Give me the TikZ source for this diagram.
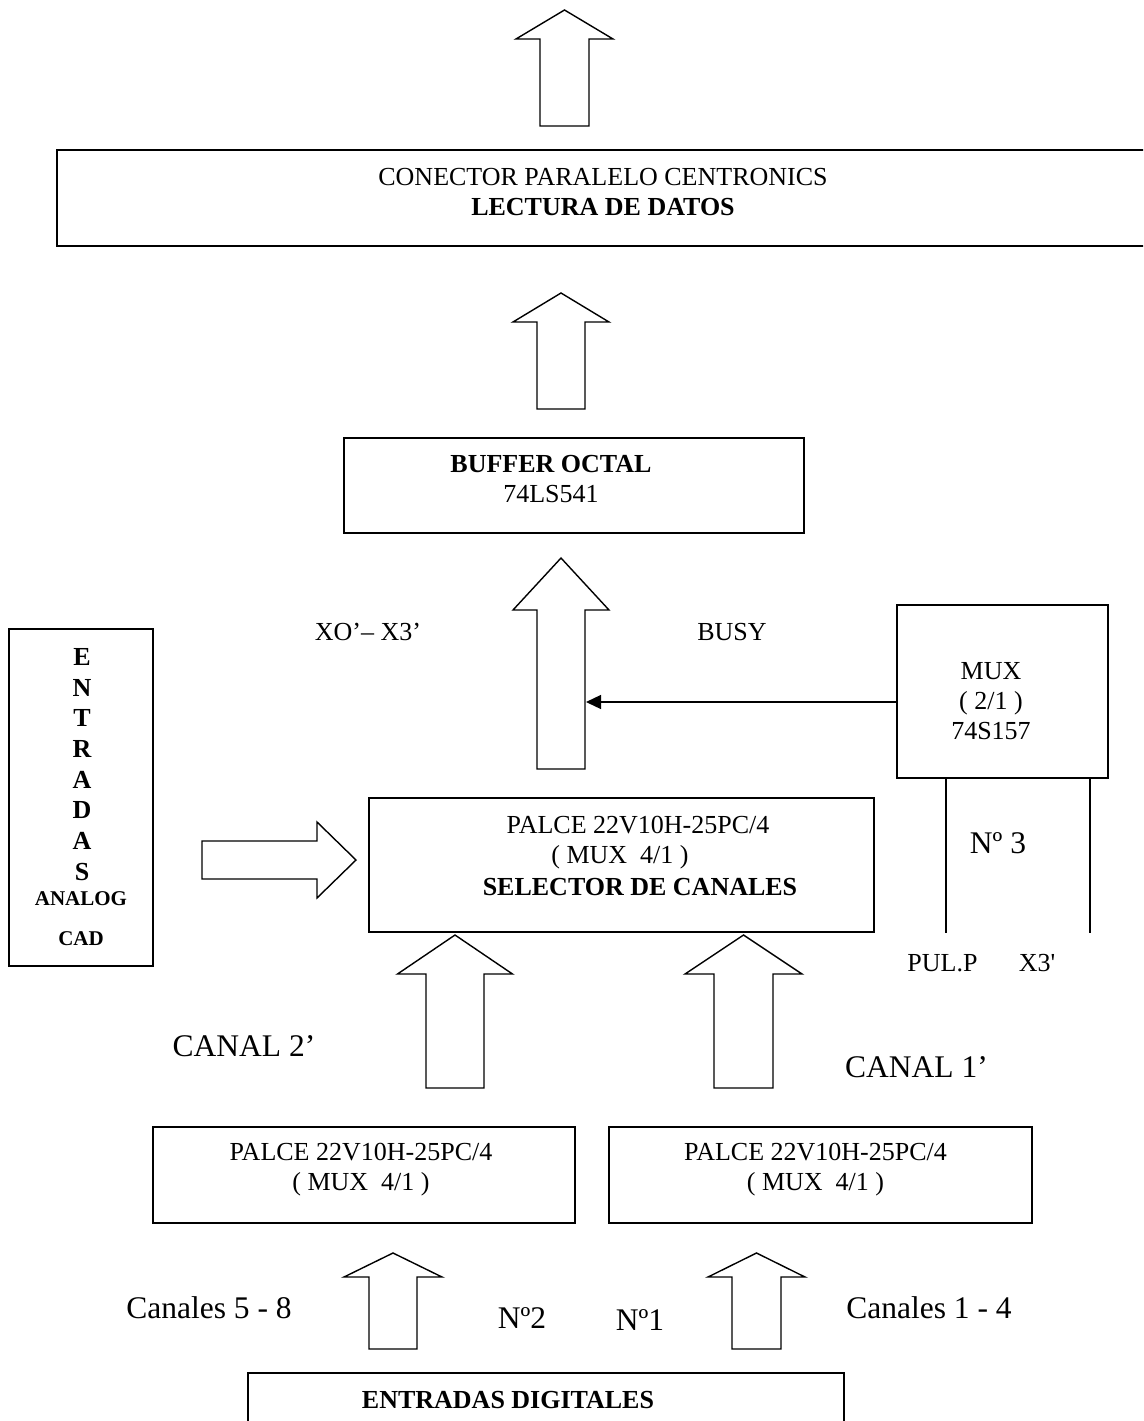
\documentclass[tikz,border=0pt]{standalone}
\usepackage{fontspec}
\setmainfont{Liberation Serif}
\usetikzlibrary{arrows.meta,positioning}
\definecolor{bdedge}{RGB}{0,0,0}
\tikzset{
  blk/.style={draw=bdedge, line width=1.5pt, inner sep=0pt},
  txt/.style={inner sep=0pt, align=center, font=\fontsize{26}{30}\selectfont},
  bigtxt/.style={txt, font=\fontsize{31.5}{36}\selectfont},
  boldtxt/.style={txt, font=\bfseries\fontsize{26}{30}\selectfont},
  smalltxt/.style={txt, font=\bfseries\fontsize{21}{25}\selectfont},
  bus/.style={draw=bdedge, line width=1.4pt, line join=miter},
  sig/.style={-{Triangle[length=15pt,width=14pt]}, draw=bdedge, line width=1.3pt}
}
% fat bus arrow pointing up: centre x, shaft half, head half, bottom, head base, tip
\newcommand{\busup}[6]{%
  \draw[bus] (#1-#2,#4) -- (#1-#2,#5) -- (#1-#3,#5) -- (#1,#6)
    -- (#1+#3,#5) -- (#1+#2,#5) -- (#1+#2,#4) -- cycle;}

\begin{document}
\begin{tikzpicture}[x=1pt, y=-1pt]
  \useasboundingbox (0,0) rectangle (1143,1421);
  \clip (0,0) rectangle (1143,1421);

  % boxes
  \node[blk, minimum width=1092pt, minimum height=96pt] (conn) at (603,198) {};
  \node[blk, minimum width=460pt, minimum height=95pt] (buf) at (574,485.5) {};
  \node[blk, minimum width=211pt, minimum height=173pt] (mux) at (1002.5,691.5) {};
  \node[blk, minimum width=144pt, minimum height=337pt] (analog) at (81,797.5) {};
  \node[blk, minimum width=505pt, minimum height=134pt] (sel) at (621.5,865) {};
  \node[blk, minimum width=422pt, minimum height=96pt] (pal2) at (364,1175) {};
  \node[blk, minimum width=423pt, minimum height=96pt] (pal1) at (820.5,1175) {};
  \node[blk, minimum width=596pt, minimum height=67pt] (dig) at (546,1406.5) {};

  % box texts
  \node[txt] (connT) at (603,192) {CONECTOR PARALELO CENTRONICS\\\textbf{LECTURA DE DATOS}};
  \node[txt] (bufT) at (551,479.5) {\textbf{BUFFER OCTAL}\\74LS541};
  \node[txt] (muxT) at (991,701) {MUX\\( 2/1 )\\74S157};
  \node[boldtxt, font=\bfseries\fontsize{26}{30.7}\selectfont] (analogT) at (82,764.5)
    {E\\N\\T\\R\\A\\D\\A\\S};
  \node[smalltxt] (analogA) at (81,899) {ANALOG};
  \node[smalltxt] (analogC) at (81,939) {CAD};
  \node[txt] (selA) at (638,825) {PALCE 22V10H-25PC/4};
  \node[txt] (selB) at (620,857) {( MUX\ \ 4/1 )};
  \node[boldtxt] (selC) at (640,887) {SELECTOR DE CANALES};
  \node[txt] (pal2T) at (361,1169.5) {PALCE 22V10H-25PC/4\\( MUX\ \ 4/1 )};
  \node[txt] (pal1T) at (815.5,1169.5) {PALCE 22V10H-25PC/4\\( MUX\ \ 4/1 )};
  \node[boldtxt] (digT) at (508,1400) {ENTRADAS DIGITALES};

  % labels
  \node[txt] (xlab) at (368,632) {XO’– X3’};
  \node[txt] (busy) at (732,632) {BUSY};
  \node[bigtxt] (n3) at (998,843) {Nº 3};
  \node[txt] (pulp) at (942.5,963) {PUL.P};
  \node[txt] (x3) at (1037,963) {X3\textquotesingle};
  \node[bigtxt] (can2) at (244,1046) {CANAL 2’};
  \node[bigtxt] (can1) at (916.5,1067) {CANAL 1’};
  \node[bigtxt] (ch58) at (209,1308) {Canales 5 - 8};
  \node[bigtxt] (ch14) at (929,1308) {Canales 1 - 4};
  \node[bigtxt] (no2) at (522,1318) {Nº2};
  \node[bigtxt] (no1) at (640,1320) {Nº1};

  % bus arrows
  \busup{564.5}{24.5}{48.5}{126}{39}{10}
  \busup{561}{24}{48}{409}{322}{293}
  \busup{561}{24}{48}{769}{610}{558}
  \busup{455}{29}{57.5}{1088}{974}{935}
  \busup{743.5}{29.5}{58.5}{1088}{974}{935}
  \busup{393}{24}{49}{1349}{1277}{1253}
  \busup{756.5}{24.5}{48.5}{1349}{1277}{1253}
  \draw[bus] (202,841) -- (317,841) -- (317,822) -- (356,860)
    -- (317,898) -- (317,879) -- (202,879) -- cycle;

  % control lines
  \coordinate (busin) at (586,702);
  \draw[sig] (mux.west |- busin) -- (busin);
  \coordinate (pulpend) at (946,933);
  \coordinate (x3end) at (1090,933);
  \draw[bus] (mux.south -| pulpend) -- (pulpend);
  \draw[bus] (mux.south -| x3end) -- (x3end);
\end{tikzpicture}
\end{document}
